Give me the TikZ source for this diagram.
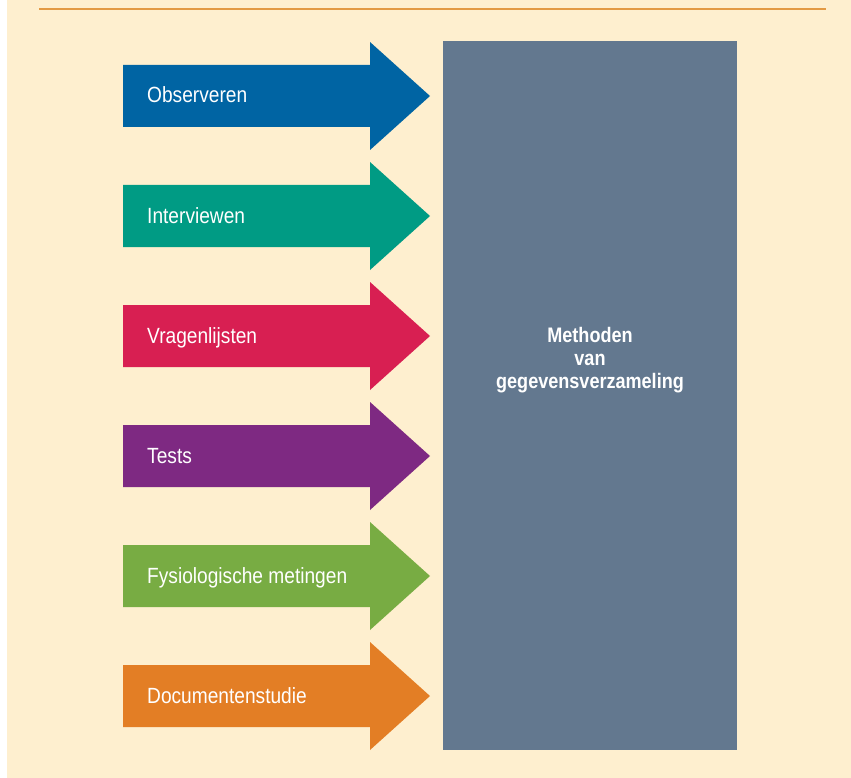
\documentclass[tikz,border=0pt]{standalone}
\usepackage{fontspec}
\setmainfont{Liberation Sans}
\newfontfamily\labelfont[FakeStretch=0.87]{Liberation Sans}
\newfontfamily\titlefont[FakeStretch=0.86]{Liberation Sans}
\usetikzlibrary{calc}
\definecolor{creamback}{HTML}{FEEFCF}
\definecolor{rulecol}{HTML}{E39A43}
\definecolor{obscol}{HTML}{0064A3}
\definecolor{intcol}{HTML}{009B84}
\definecolor{vragcol}{HTML}{D81F52}
\definecolor{testcol}{HTML}{7E2982}
\definecolor{fyscol}{HTML}{78AC43}
\definecolor{doccol}{HTML}{E37E25}
\definecolor{boxcol}{HTML}{63788F}
\newcommand\methodarrow[1]{++(0,-31) -- ++(247,0) -- ++(0,-23) -- ++(60,54) -- ++(-60,54) -- ++(0,-23) -- ++(-247,0) -- cycle}
\tikzset{
  labeltext/.style={anchor=base west, inner sep=0pt, text=white, font=\labelfont\fontsize{22}{26}\selectfont},
}

\begin{document}
\begin{tikzpicture}[x=1pt,y=-1pt]

\fill[white] (0,0) rectangle (851,778);
\fill[creamback] (7,0) rectangle (851,778);
\useasboundingbox (0,0) rectangle (851,778);

\draw[rulecol, line width=2pt] (39,9) -- (826,9);

\coordinate (A1) at (123,96);
\coordinate (A2) at (123,216);
\coordinate (A3) at (123,336);
\coordinate (A4) at (123,456);
\coordinate (A5) at (123,576);
\coordinate (A6) at (123,696);

\fill[obscol] (A1) \methodarrow{};
\fill[intcol] (A2) \methodarrow{};
\fill[vragcol] (A3) \methodarrow{};
\fill[testcol] (A4) \methodarrow{};
\fill[fyscol] (A5) \methodarrow{};
\fill[doccol] (A6) \methodarrow{};

\node[labeltext] (obs) at ($(A1)+(24,7)$) {Observeren};
\node[labeltext] (int) at ($(A2)+(24,7)$) {Interviewen};
\node[labeltext] (vrag) at ($(A3)+(24,7)$) {Vragenlijsten};
\node[labeltext] (tests) at ($(A4)+(24,7)$) {Tests};
\node[labeltext] (fys) at ($(A5)+(24,7)$) {Fysiologische metingen};
\node[labeltext] (doc) at ($(A6)+(24,7)$) {Documentenstudie};

\fill[boxcol] (443,41) rectangle (737,750);
\node[text=white, align=center, inner sep=0pt, font=\titlefont\bfseries\fontsize{21}{23}\selectfont] (methods) at (590,360.5) {Methoden\\van\\gegevensverzameling};

\end{tikzpicture}
\end{document}
